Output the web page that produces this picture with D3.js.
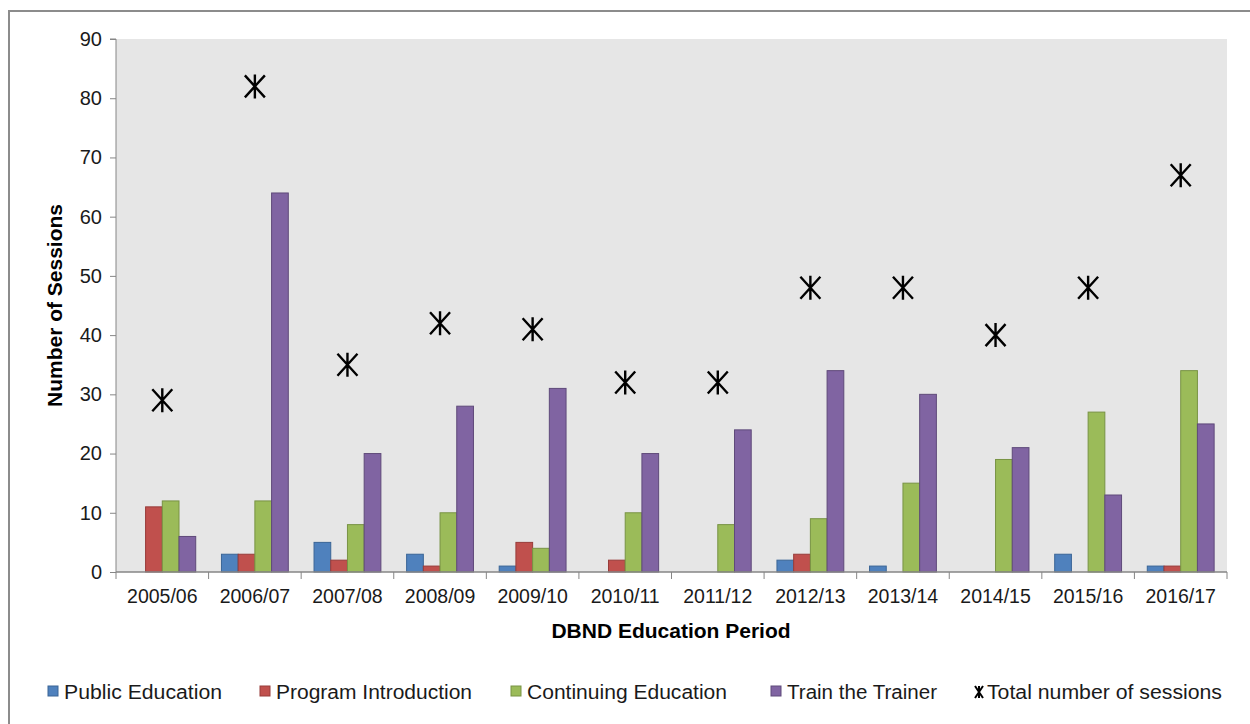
<!DOCTYPE html>
<html>
<head>
<meta charset="utf-8">
<script src="https://cdn.jsdelivr.net/npm/d3@7"></script>
<style>
  body { margin: 0; background: #fff; }
  svg { font-family: "Liberation Sans", Arial, sans-serif; }
</style>
</head>
<body>
<svg width="1250" height="724"></svg>
<script>
var periods = ["2005/06", "2006/07", "2007/08", "2008/09", "2009/10", "2010/11",
               "2011/12", "2012/13", "2013/14", "2014/15", "2015/16", "2016/17"];
var publicEducation      = [0, 3, 5, 3, 1, 0, 0, 2, 1, 0, 3, 1];
var programIntroduction  = [11, 3, 2, 1, 5, 2, 0, 3, 0, 0, 0, 1];
var continuingEducation  = [12, 12, 8, 10, 4, 10, 8, 9, 15, 19, 27, 34];
var trainTheTrainer      = [6, 64, 20, 28, 31, 20, 24, 34, 30, 21, 13, 25];
var totalSessions        = [29, 82, 35, 42, 41, 32, 32, 48, 48, 40, 48, 67];
var yTicks = [0, 10, 20, 30, 40, 50, 60, 70, 80, 90];

var seriesNames = ["Public Education", "Program Introduction", "Continuing Education", "Train the Trainer"];
var seriesColors = ["#4f81bd", "#c0504d", "#9bbb59", "#8064a2"];
var seriesStrokes = ["#3a6596", "#983c3a", "#789344", "#5f4a7a"];
var seriesData = [publicEducation, programIntroduction, continuingEducation, trainTheTrainer];

var svg = d3.select("svg");
var margin = {left: 116, right: 23, top: 39, bottom: 152};
var width = 1250, height = 724;

// outer frame (only top and left edges show)
svg.append("path")
  .attr("d", "M9,724 L9,11 L1250,11")
  .attr("fill", "none")
  .attr("stroke", "#8c8c8c")
  .attr("stroke-width", 2);

var x = d3.scaleBand().domain(periods).range([margin.left, width - margin.right]);
var inner = d3.scaleBand().domain(d3.range(4)).range([0, x.bandwidth()]).paddingOuter(0.77).paddingInner(0);
var y = d3.scaleLinear().domain([0, 90]).range([height - margin.bottom, margin.top]);

// plot background
svg.append("rect")
  .attr("x", margin.left)
  .attr("y", margin.top)
  .attr("width", width - margin.left - margin.right)
  .attr("height", y(0) - margin.top)
  .attr("fill", "#e6e6e6");

// bars
seriesData.forEach(function(values, s) {
  svg.append("g").selectAll("rect")
    .data(values)
    .enter().append("rect")
    .attr("x", function(d, i) { return x(periods[i]) + inner(s); })
    .attr("y", function(d) { return y(d); })
    .attr("width", inner.bandwidth())
    .attr("height", function(d) { return y(0) - y(d); })
    .attr("fill", seriesColors[s])
    .attr("stroke", function(d) { return d > 0 ? seriesStrokes[s] : "none"; })
    .attr("stroke-width", 1);
});

// y axis
var axisLeft = d3.axisLeft(y).tickValues(yTicks).tickSize(6).tickPadding(8);
var gy = svg.append("g")
  .attr("transform", "translate(" + margin.left + ",0)")
  .call(axisLeft);
gy.select(".domain").attr("stroke", "#868686").attr("d", "M-6," + y(90) + "H0V" + y(0));
gy.selectAll(".tick line").attr("stroke", "#868686");
gy.selectAll("text").attr("font-size", 20).attr("fill", "#1a1a1a");

// x axis: ticks at category boundaries
var gx = svg.append("g").attr("transform", "translate(0," + y(0) + ")");
gx.append("line")
  .attr("x1", margin.left).attr("x2", width - margin.right)
  .attr("stroke", "#868686").attr("stroke-width", 1.5);
gx.selectAll(".bound")
  .data(periods.concat(["end"]))
  .enter().append("line")
  .attr("x1", function(d, i) { return margin.left + i * x.step(); })
  .attr("x2", function(d, i) { return margin.left + i * x.step(); })
  .attr("y1", 0).attr("y2", 7)
  .attr("stroke", "#868686");
gx.selectAll(".lab")
  .data(periods)
  .enter().append("text")
  .attr("x", function(d) { return x(d) + x.bandwidth() / 2; })
  .attr("y", 31)
  .attr("text-anchor", "middle")
  .attr("font-size", 19.5)
  .attr("fill", "#1a1a1a")
  .text(function(d) { return d; });

// total markers (asterisk)
svg.append("g").selectAll("path")
  .data(totalSessions)
  .enter().append("path")
  .attr("d", function(d, i) {
    var cx = x(periods[i]) + x.bandwidth() / 2, cy = y(d);
    return "M" + (cx - 10) + "," + (cy - 11) + "L" + (cx + 10) + "," + (cy + 11) +
      "M" + (cx - 10) + "," + (cy + 11) + "L" + (cx + 10) + "," + (cy - 11) +
      "M" + cx + "," + (cy - 12) + "V" + (cy + 12);
  })
  .attr("stroke", "#000")
  .attr("stroke-width", 2.4)
  .attr("fill", "none");

// axis titles
svg.append("text")
  .attr("transform", "rotate(-90)")
  .attr("x", -(y(0) + y(90)) / 2)
  .attr("y", 62)
  .attr("text-anchor", "middle")
  .attr("font-size", 21)
  .attr("font-weight", "bold")
  .text("Number of Sessions");

svg.append("text")
  .attr("x", 671)
  .attr("y", 638)
  .attr("text-anchor", "middle")
  .attr("font-size", 21)
  .attr("font-weight", "bold")
  .text("DBND Education Period");

// legend
var legendX = [48, 260, 511, 771];
var legendW = [158, 196, 200, 150];
var legend = svg.append("g");
seriesNames.forEach(function(name, s) {
  legend.append("rect")
    .attr("x", legendX[s]).attr("y", 686)
    .attr("width", 10).attr("height", 10)
    .attr("fill", seriesColors[s])
    .attr("stroke", seriesStrokes[s]);
  legend.append("text")
    .attr("x", legendX[s] + 16).attr("y", 699)
    .attr("font-size", 20)
    .attr("textLength", legendW[s])
    .attr("lengthAdjust", "spacingAndGlyphs")
    .attr("fill", "#1a1a1a")
    .text(name);
});
legend.append("path")
  .attr("d", "M975,686L983,698M975,698L983,686M979,686V698")
  .attr("stroke", "#000").attr("stroke-width", 2).attr("fill", "none");
legend.append("text")
  .attr("x", 987).attr("y", 699)
  .attr("font-size", 20)
  .attr("textLength", 235)
  .attr("lengthAdjust", "spacingAndGlyphs")
  .attr("fill", "#1a1a1a")
  .text("Total number of sessions");
</script>
</body>
</html>
